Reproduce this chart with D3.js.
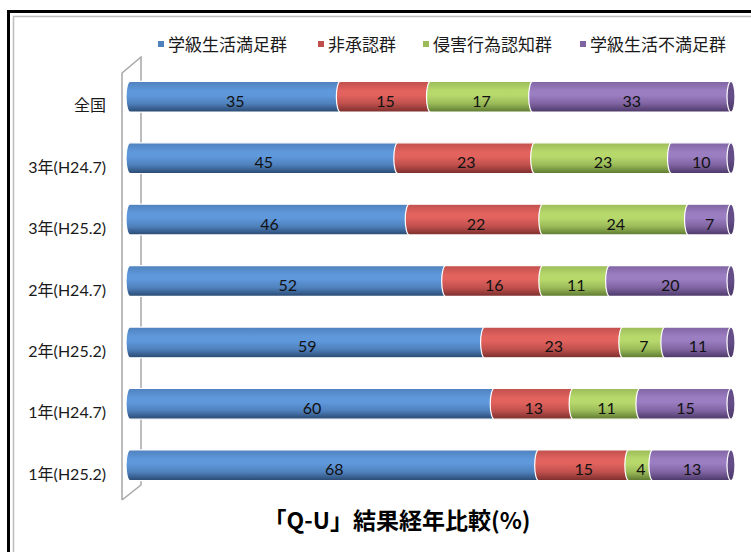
<!DOCTYPE html>
<html>
<head>
<meta charset="utf-8">
<script src="https://cdn.jsdelivr.net/npm/d3@7"></script>
<style>
  html, body { margin: 0; padding: 0; background: #fff; }
  svg { display: block; }
</style>
</head>
<body>
<svg id="chart" width="751" height="552"></svg>
<script>
// Q-U survey results by grade and survey period (%), 100% stacked
const categories = ["全国", "3年(H24.7)", "3年(H25.2)", "2年(H24.7)", "2年(H25.2)", "1年(H24.7)", "1年(H25.2)"];
const seriesNames = ["学級生活満足群", "非承認群", "侵害行為認知群", "学級生活不満足群"];
const satisfied   = [35, 45, 46, 52, 59, 60, 68];
const unapproved  = [15, 23, 22, 16, 23, 13, 15];
const infringed   = [17, 23, 24, 11, 7, 11, 4];
const unsatisfied = [33, 10, 7, 20, 11, 15, 13];
const seriesValues = [satisfied, unapproved, infringed, unsatisfied];
const title = "「Q-U」結果経年比較(%)";

const palette = [
  { base: "#4F81BD", light: "#5F98DB", dark: "#294870", cap: "#3A6394" },
  { base: "#C0504D", light: "#E2625E", dark: "#7A2E2C", cap: "#993E3B" },
  { base: "#9BBB59", light: "#B7D96C", dark: "#5D7830", cap: "#7B9843" },
  { base: "#8064A2", light: "#9B7DC1", dark: "#4A3767", cap: "#654E88" }
];

const svg = d3.select("#chart");
const defs = svg.append("defs");

// vertical cylinder shading for each series
palette.forEach((c, i) => {
  const g = defs.append("linearGradient")
    .attr("id", "cyl" + i).attr("x1", 0).attr("y1", 0).attr("x2", 0).attr("y2", 1);
  [[0, c.base], [0.3, c.light], [0.45, c.light], [0.72, c.base], [1, c.dark]]
    .forEach(([o, col]) => g.append("stop").attr("offset", o).attr("stop-color", col));
  const gc = defs.append("linearGradient")
    .attr("id", "cap" + i).attr("x1", 0).attr("y1", 0).attr("x2", 0).attr("y2", 1);
  [[0, c.cap], [0.5, c.cap], [1, c.dark]]
    .forEach(([o, col]) => gc.append("stop").attr("offset", o).attr("stop-color", col));
});

// outer frame
svg.append("rect").attr("x", 8.5).attr("y", 11.5).attr("width", 800).attr("height", 600)
  .attr("fill", "none").attr("stroke", "#000").attr("stroke-width", 3);
svg.append("rect").attr("x", 13.5).attr("y", 16.5).attr("width", 790).attr("height", 590)
  .attr("fill", "none").attr("stroke", "#bdbdbd").attr("stroke-width", 1.5);

const x = d3.scaleLinear().domain([0, 1]).range([130, 731]);
const y = d3.scaleBand().domain(categories).range([66, 496]).paddingInner(0.5).paddingOuter(0.25);
const bw = y.bandwidth();
const rx = 4, ry = bw / 2;

// 3D side wall
const [wTop, wBot] = y.range();
const wallL = 122, wallR = 141, depth = 16;
svg.append("path")
  .attr("d", `M${wallL},${wBot + 4} L${wallL},${wTop + 7} L${wallR},${wTop - depth + 7} L${wallR},${wBot - depth + 5} L${wallL},${wBot + 4}`)
  .attr("fill", "none").attr("stroke", "#a6a6a6").attr("stroke-width", 1.5);

// stack each row as shares of its total
const table = categories.map((cat, r) => {
  const o = { cat };
  seriesNames.forEach((n, s) => { o[n] = seriesValues[s][r]; });
  return o;
});
const stacked = d3.stack().keys(seriesNames).offset(d3.stackOffsetExpand)(table);

const rows = categories.map((cat, r) => ({
  cat,
  segs: stacked.map((layer, s) => ({ s, v: seriesValues[s][r], x0: layer[r][0], x1: layer[r][1] }))
}));

function segPath(x0, x1, top) {
  const bot = top + bw;
  return `M${x0},${top} L${x1},${top} A${rx},${ry} 0 0 1 ${x1},${bot} L${x0},${bot} A${rx},${ry} 0 0 1 ${x0},${top} Z`;
}

const rowG = svg.append("g").selectAll("g").data(rows).join("g");

rowG.each(function(row) {
  const g = d3.select(this);
  const top = y(row.cat);
  row.segs.forEach(seg => {
    g.append("path")
      .attr("d", segPath(x(seg.x0), x(seg.x1), top))
      .attr("fill", `url(#cyl${seg.s})`)
      .attr("stroke", "#fff").attr("stroke-width", 1.2);
  });
  const last = row.segs[row.segs.length - 1];
  g.append("ellipse")
    .attr("cx", x(last.x1)).attr("cy", top + ry).attr("rx", rx).attr("ry", ry)
    .attr("fill", `url(#cap${last.s})`).attr("stroke", "#fff").attr("stroke-width", 1.2);
  row.segs.forEach(seg => {
    g.append("text")
      .attr("x", (x(seg.x0) + x(seg.x1)) / 2)
      .attr("y", top + ry + 10)
      .attr("text-anchor", "middle")
      .attr("font-family", "Lato, 'Noto Sans CJK JP', sans-serif")
      .attr("font-size", 16)
      .attr("fill", "#111")
      .text(seg.v);
  });
});

// category labels
svg.append("g").selectAll("text").data(categories).join("text")
  .attr("x", 106)
  .attr("y", d => y(d) + bw / 2 + 14.5)
  .attr("text-anchor", "end")
  .attr("font-family", "Lato, 'Noto Sans CJK JP', sans-serif")
  .attr("font-size", 16)
  .attr("fill", "#1a1a1a")
  .text(d => d);

// legend
const legendX = [158, 318, 423, 580];
const legend = svg.append("g").selectAll("g").data(seriesNames).join("g")
  .attr("transform", (d, i) => `translate(${legendX[i]},44)`);
legend.append("rect").attr("x", 0).attr("y", -3).attr("width", 6).attr("height", 6)
  .attr("fill", (d, i) => palette[i].base);
legend.append("text").attr("x", 10).attr("y", 6.5)
  .attr("font-family", "'Noto Sans CJK JP', sans-serif")
  .attr("font-size", 17).attr("fill", "#1a1a1a")
  .text(d => d);

// title
svg.append("text")
  .attr("x", 397).attr("y", 529)
  .attr("text-anchor", "middle")
  .attr("font-family", "'Noto Sans CJK JP', sans-serif")
  .attr("font-weight", "bold")
  .attr("font-size", 23)
  .attr("fill", "#000")
  .text(title);
</script>
</body>
</html>
